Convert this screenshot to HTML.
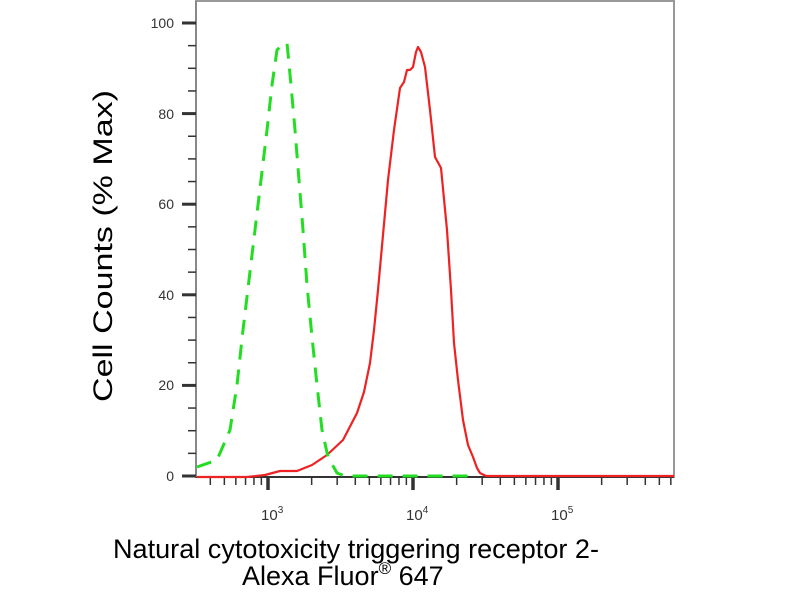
<!DOCTYPE html>
<html><head><style>html,body{margin:0;padding:0;background:#fff}svg{display:block}</style></head>
<body>
<svg width="800" height="600" xmlns="http://www.w3.org/2000/svg" font-family="Liberation Sans, Arial, sans-serif">
<rect x="0" y="0" width="800" height="600" fill="#fff"/>
<rect x="196" y="1" width="478" height="476" fill="none" stroke="#999" stroke-width="2"/>
<line x1="196" y1="477" x2="674" y2="477" stroke="#333" stroke-width="2"/>
<line x1="196" y1="1" x2="196" y2="477" stroke="#888" stroke-width="2"/>
<g id="yt" stroke="#333"></g>
<g id="xt" stroke="#333"></g>
<g font-size="14" fill="#333" text-anchor="end">
<text x="174" y="28">100</text>
<text x="174" y="119">80</text>
<text x="174" y="209">60</text>
<text x="174" y="300">40</text>
<text x="174" y="390">20</text>
<text x="174" y="481">0</text>
</g>
<g font-size="15" fill="#333">
<text x="261" y="520">10<tspan font-size="10" dy="-7">3</tspan></text>
<text x="406" y="520">10<tspan font-size="10" dy="-7">4</tspan></text>
<text x="551" y="520">10<tspan font-size="10" dy="-7">5</tspan></text>
</g>
<polyline fill="none" stroke="#ee2222" stroke-width="2.2" stroke-linejoin="round" points="197,477 247,477 265,475 280,471 297,471 312,465 327,455 343,440 357,413 364,392 370,363 374,330 378,290 383,235 388,180 394,130 400,88 404,82 407,70 410,70 413,67 416,52 418,47 421,52 425,67 430,110 435,157 441,168 447,230 451,290 454,343 458,380 463,420 468,445 473,457 477,468 480,473 486,476 674,476"/>
<polyline fill="none" stroke="#22dd22" stroke-width="3" stroke-dasharray="15,10" points="197,467 217,460 230,430 237,385 243,330 249,280 255,230 261,180 267,130 272,85 277,50 282,45 287,43 291,85 295,130 299,180 303,230 307,285 312,337 317,385 322,430 328,457 337,473 345,476 470,476"/>
<text transform="translate(112,402) rotate(-90)" font-size="27" fill="#000" textLength="312" lengthAdjust="spacingAndGlyphs">Cell Counts (% Max)</text>
<text x="113" y="558" font-size="27" fill="#000" textLength="486" lengthAdjust="spacingAndGlyphs">Natural cytotoxicity triggering receptor 2-</text>
<text x="242" y="585" font-size="27" fill="#000">Alexa Fluor<tspan font-size="17" dy="-11">®</tspan><tspan dy="11"> 647</tspan></text>
</svg>
<script>
var ns="http://www.w3.org/2000/svg";
var yt=document.getElementById("yt"),xt=document.getElementById("xt");
function L(g,x1,y1,x2,y2,w){var l=document.createElementNS(ns,"line");l.setAttribute("x1",x1);l.setAttribute("y1",y1);l.setAttribute("x2",x2);l.setAttribute("y2",y2);l.setAttribute("stroke-width",w);g.appendChild(l);}
for(var v=0;v<=105;v+=5){var y=476-v*4.53;if(y<2)continue;if(v%20==0)L(yt,182,y,196,y,3);else L(yt,188,y,196,y,1.5);}
for(var d=2;d<=5;d++){for(var m=1;m<=9;m++){var lg=d+Math.log10(m);var x=268+(lg-3)*145;if(x<197||x>673)continue;if(m==1)L(xt,x,477,x,490,3.5);else L(xt,x,477,x,485,1.5);}}
</script>
</body></html>
